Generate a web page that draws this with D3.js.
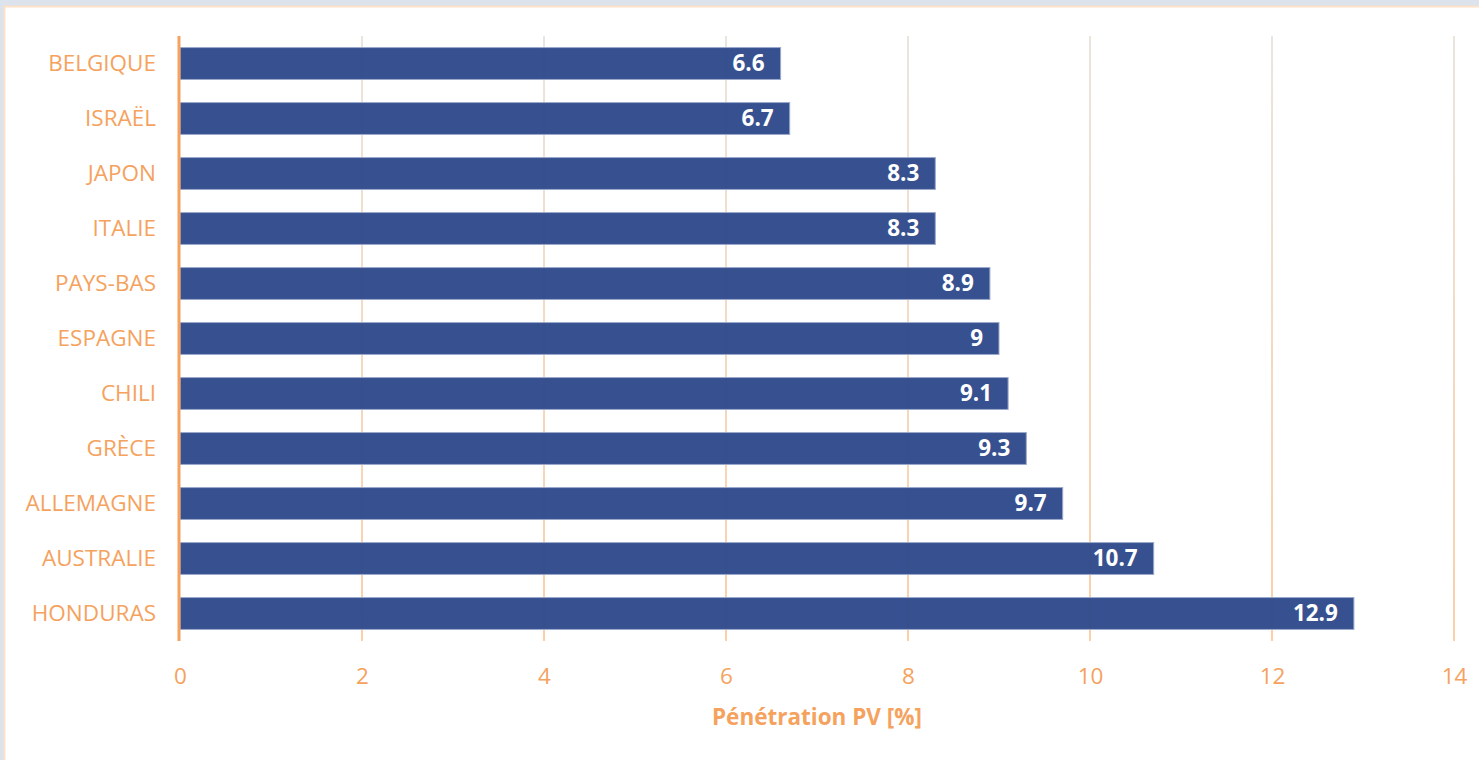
<!DOCTYPE html>
<html>
<head>
<meta charset="utf-8">
<script src="https://cdn.jsdelivr.net/npm/d3@7/dist/d3.min.js"></script>
<style>
  html, body { margin: 0; padding: 0; background: #dce3ec; }
  svg { display: block; }
</style>
</head>
<body>
<script>
// PV penetration by country (%)
const countries = ["BELGIQUE", "ISRAËL", "JAPON", "ITALIE", "PAYS-BAS", "ESPAGNE",
                   "CHILI", "GRÈCE", "ALLEMAGNE", "AUSTRALIE", "HONDURAS"];
const penetration = [6.6, 6.7, 8.3, 8.3, 8.9, 9, 9.1, 9.3, 9.7, 10.7, 12.9];
const xTicks = [0, 2, 4, 6, 8, 10, 12, 14];
const axisTitle = "Pénétration PV [%]";

const W = 1479, H = 760;
const margin = { top: 36, right: 25, bottom: 119, left: 180 };
const orange = "#f5a25e";
const barFill = "#2a4689";
const font = "'Open Sans', 'Noto Sans', sans-serif";
const fs = 22.5;

const svg = d3.select("body").append("svg").attr("width", W).attr("height", H);

// card background
svg.append("rect").attr("x", 4.5).attr("y", 6.5).attr("width", W).attr("height", H)
  .attr("fill", "#ffffff").attr("stroke", "#fde1c8").attr("stroke-width", 2);

const defs = svg.append("defs");
const grad = defs.append("linearGradient").attr("id", "gridGrad")
  .attr("gradientUnits", "userSpaceOnUse")
  .attr("x1", 0).attr("y1", margin.top).attr("x2", 0).attr("y2", H - margin.bottom);
grad.append("stop").attr("offset", "0%").attr("stop-color", "#e4dcd4");
grad.append("stop").attr("offset", "100%").attr("stop-color", "#fbbf8a");

const x = d3.scaleLinear().domain([0, 14]).range([margin.left, W - margin.right]);
const y = d3.scaleBand().domain(countries).range([margin.top, H - margin.bottom]).paddingInner(0.42).paddingOuter(0.21);

// vertical gridlines
svg.append("g").selectAll("line").data(xTicks.filter(d => d > 0)).join("line")
  .attr("x1", d => x(d)).attr("x2", d => x(d))
  .attr("y1", margin.top).attr("y2", H - margin.bottom)
  .attr("stroke", "url(#gridGrad)").attr("stroke-width", 1.5);

// bars
svg.append("g").selectAll("rect").data(countries).join("rect")
  .attr("x", x(0))
  .attr("y", d => y(d))
  .attr("width", (d, i) => x(penetration[i]) - x(0))
  .attr("height", y.bandwidth())
  .attr("fill", barFill).attr("fill-opacity", 0.94)
  .attr("stroke", "#9aa8cc").attr("stroke-width", 1);

// value labels inside bar ends
svg.append("g").selectAll("text").data(countries).join("text")
  .attr("x", (d, i) => x(penetration[i]) - 16)
  .attr("y", d => y(d) + y.bandwidth() / 2 + 1.5)
  .attr("text-anchor", "end").attr("dominant-baseline", "middle")
  .attr("font-family", font)
  .attr("font-weight", "bold").attr("font-size", fs).attr("fill", "#ffffff")
  .text((d, i) => penetration[i]);

// y axis
const yAxis = svg.append("g").attr("transform", `translate(${margin.left},0)`)
  .call(d3.axisLeft(y).tickSize(0).tickPadding(24));
yAxis.select(".domain").attr("stroke", orange).attr("stroke-width", 3)
  .attr("d", `M-1,${margin.top}V${H - margin.bottom}`);
yAxis.selectAll("text").attr("fill", orange)
  .attr("font-family", font).attr("font-size", fs);

// x axis
const xAxis = svg.append("g").attr("transform", `translate(0,${H - margin.bottom})`)
  .call(d3.axisBottom(x).tickValues(xTicks).tickSize(0).tickPadding(27));
xAxis.select(".domain").remove();
xAxis.selectAll("text").attr("fill", orange)
  .attr("font-family", font).attr("font-size", fs);

// axis title
svg.append("text")
  .attr("x", (x(0) + x(14)) / 2).attr("y", 725)
  .attr("text-anchor", "middle")
  .attr("font-family", font)
  .attr("font-weight", "bold").attr("font-size", fs).attr("fill", orange)
  .text(axisTitle);
</script>
</body>
</html>
